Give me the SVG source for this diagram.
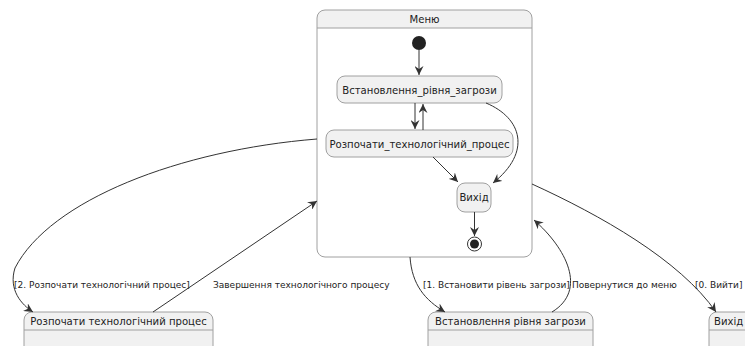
<svg xmlns="http://www.w3.org/2000/svg" width="745" height="346" viewBox="0 0 745 346">
<style>
.st{fill:#F1F1F1;stroke:#A0A0A0;stroke-width:1}
.t{font-family:"DejaVu Sans",sans-serif;font-size:10.1px;fill:#222}
.lb{font-family:"DejaVu Sans",sans-serif;font-size:9px;fill:#222}
.e{fill:none;stroke:#333;stroke-width:1}
.hl{stroke:#A0A0A0;stroke-width:1}
</style>
<defs>
<marker id="a" markerWidth="10" markerHeight="9" refX="9" refY="4.5" orient="auto" markerUnits="userSpaceOnUse">
<path d="M0,0 L9,4.5 L0,9 L3,4.5 Z" fill="#333"/>
</marker>
</defs>
<g id="menu">
<path d="M325,10 H524 Q532,10 532,18 V28 H317 V18 Q317,10 325,10 Z" fill="#F1F1F1"/>
<path d="M317,28 H532 V249 Q532,257 524,257 H325 Q317,257 317,249 V28 Z" fill="#FFFFFF"/>
<rect x="317" y="10" width="215" height="247" rx="8" fill="none" stroke="#A0A0A0" stroke-width="1"/>
<line class="hl" x1="317" y1="28" x2="532" y2="28"/>
<text class="t" x="424.5" y="23" text-anchor="middle">Меню</text>
</g>
<g id="init"><circle cx="419" cy="43" r="7" fill="#222"/></g>
<g id="vstan_in"><rect class="st" x="337" y="76" width="165" height="27" rx="8"/><text class="t" x="419.5" y="93.5" text-anchor="middle">Встановлення_рівня_загрози</text></g>
<g id="rozp_in"><rect class="st" x="326" y="130" width="187" height="27" rx="8"/><text class="t" x="419.5" y="147.5" text-anchor="middle">Розпочати_технологічний_процес</text></g>
<g id="vyhid_in"><rect class="st" x="457" y="183" width="34" height="29" rx="8"/><text class="t" x="474" y="201" text-anchor="middle">Вихід</text></g>
<g id="final"><circle cx="474.5" cy="244" r="7" fill="#fff" stroke="#333" stroke-width="1"/><circle cx="474.5" cy="244" r="4.5" fill="#222"/></g>
<g id="rozp"><rect class="st" x="24" y="312" width="189" height="45" rx="8"/><line class="hl" x1="24" y1="330" x2="213" y2="330"/><text class="t" x="118.5" y="325" text-anchor="middle">Розпочати технологічний процес</text></g>
<g id="vstan"><rect class="st" x="428" y="312" width="165" height="45" rx="8"/><line class="hl" x1="428" y1="330" x2="593" y2="330"/><text class="t" x="510.5" y="325" text-anchor="middle">Встановлення рівня загрози</text></g>
<g id="vyhid"><rect class="st" x="709" y="312" width="60" height="45" rx="8"/><line class="hl" x1="709" y1="330" x2="769" y2="330"/><text class="t" x="714" y="325">Вихід</text></g>
<g id="edges">
<path class="e" d="M419,50 L419,75" marker-end="url(#a)"/>
<path class="e" d="M415,103 L415,129" marker-end="url(#a)"/>
<path class="e" d="M423,130 L423,104" marker-end="url(#a)"/>
<path class="e" d="M433,157 L458,182" marker-end="url(#a)"/>
<path class="e" d="M486,103 C522,118 532,152 493,183" marker-end="url(#a)"/>
<path class="e" d="M474.5,212 L474.5,236" marker-end="url(#a)"/>
<path class="e" d="M317,139 C180,150 50,200 15,268 C8,290 22,305 33,312" marker-end="url(#a)"/>
<path class="e" d="M153,312 L317,201" marker-end="url(#a)"/>
<path class="e" d="M410,257 C412,285 425,300 445,312" marker-end="url(#a)"/>
<path class="e" d="M552,312 C588,290 566,248 534,220" marker-end="url(#a)"/>
<path class="e" d="M532,184 C600,215 680,260 716,312" marker-end="url(#a)"/>
<text class="lb" x="14" y="288">[2. Розпочати технологічний процес]</text>
<text class="lb" x="213" y="288">Завершення технологічного процесу</text>
<text class="lb" x="423" y="288">[1. Встановити рівень загрози]</text>
<text class="lb" x="572" y="288">Повернутися до меню</text>
<text class="lb" x="695" y="288">[0. Вийти]</text>
</g>
</svg>
